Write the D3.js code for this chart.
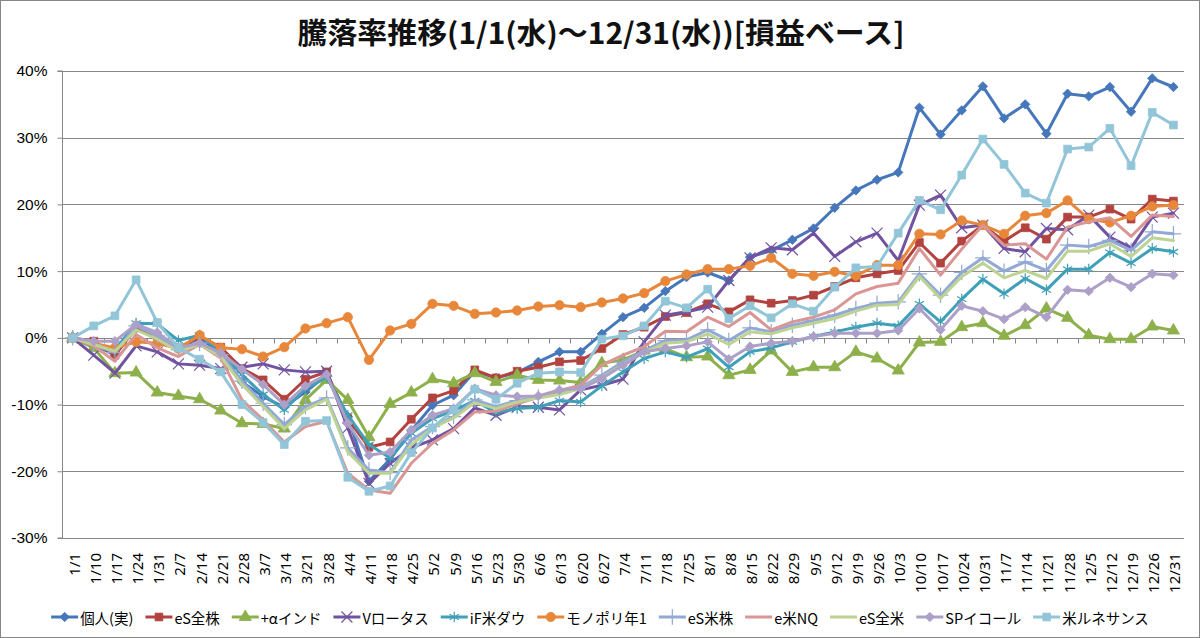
<!DOCTYPE html>
<html>
<head>
<meta charset="utf-8">
<script src="https://cdn.jsdelivr.net/npm/d3@7"></script>
<style>
  body { margin: 0; background: #fff; }
  svg { display: block; font-family: "Noto Sans", "Noto Sans CJK JP", sans-serif; }
</style>
</head>
<body>
<div id="chart"></div>
<script>
// categories (weekly dates)
const dates = ["1/1","1/10","1/17","1/24","1/31","2/7","2/14","2/21","2/28","3/7","3/14","3/21","3/28",
  "4/4","4/11","4/18","4/25","5/2","5/9","5/16","5/23","5/30","6/6","6/13","6/20","6/27","7/4","7/11",
  "7/18","7/25","8/1","8/8","8/15","8/22","8/29","9/5","9/12","9/19","9/26","10/3","10/10","10/17",
  "10/24","10/31","11/7","11/14","11/21","11/28","12/5","12/12","12/19","12/26","12/31"];

const seriesNames = ["個人(実)","eS全株","+αインド","Vロータス","iF米ダウ","モノポリ年1","eS米株","e米NQ","eS全米","SPイコール","米ルネサンス"];

const yTicks = [-30, -20, -10, 0, 10, 20, 30, 40];

// values in %
const kojin = [0,-1.0,-2.6,1.5,0.2,-1.7,0.0,-2.3,-6.6,-8.8,-10.4,-8.1,-5.6,-11.8,-21.5,-18.2,-13.9,-10.1,-8.6,-5.0,-6.0,-5.2,-3.6,-2.1,-2.1,0.6,3.1,4.5,7.0,9.1,9.8,8.6,12.1,13.1,14.7,16.4,19.5,22.1,23.7,24.8,34.5,30.5,34.1,37.7,32.9,35.0,30.6,36.6,36.2,37.6,33.9,38.9,37.6];
const esZenkabu = [0,-0.5,-2.6,1.5,0.3,-1.5,0.2,-1.4,-4.6,-6.3,-9.2,-6.2,-5.1,-12.1,-16.4,-15.6,-12.2,-9.0,-7.9,-4.8,-6.0,-5.0,-4.4,-3.6,-3.4,-1.6,0.5,1.6,3.2,3.8,5.1,3.9,5.7,5.2,5.6,6.4,7.7,9.0,9.6,10.1,14.3,11.2,14.5,16.9,14.5,16.5,14.8,18.1,18.1,19.3,17.8,20.8,20.5];
const alphaIndo = [0,-1.5,-5.3,-5.2,-8.2,-8.7,-9.2,-10.9,-12.8,-12.9,-13.6,-9.3,-6.3,-9.3,-14.9,-9.9,-8.2,-6.2,-6.8,-5.3,-6.6,-5.6,-6.3,-6.4,-6.7,-3.8,-3.3,-1.9,-1.6,-2.9,-2.8,-5.6,-4.8,-1.9,-5.1,-4.4,-4.4,-2.1,-3.1,-4.9,-0.7,-0.6,1.6,2.2,0.3,1.9,4.4,3.0,0.4,-0.2,-0.2,1.7,1.1];
const vLotus = [0,-2.6,-5.3,-1.2,-2.1,-3.9,-4.1,-4.6,-4.4,-3.9,-4.8,-5.1,-5.0,-13.5,-21.8,-18.8,-16.5,-15.3,-13.6,-10.5,-11.6,-10.4,-10.4,-10.8,-7.8,-7.1,-6.2,-0.6,3.4,3.9,4.6,8.6,12.0,13.5,13.2,15.7,12.2,14.4,15.7,11.6,19.9,21.4,16.5,16.9,13.4,12.9,16.4,16.2,18.4,15.1,13.5,18.1,18.7];
const ifDow = [0,-1.0,-1.8,2.2,2.1,-0.4,0.4,-2.1,-5.5,-8.5,-10.8,-7.6,-5.9,-11.6,-16.0,-18.0,-14.3,-12.1,-10.9,-9.4,-11.2,-10.6,-10.4,-9.4,-9.6,-7.2,-5.1,-3.1,-2.1,-2.9,-1.6,-4.4,-2.1,-1.5,-0.6,0.2,0.9,1.6,2.2,1.8,5.1,2.4,5.8,8.8,6.6,8.9,7.2,10.3,10.3,12.8,11.2,13.4,12.9];
const monopoly = [0,-0.8,-1.5,-0.6,-0.8,-1.6,0.4,-1.5,-1.7,-2.8,-1.4,1.4,2.2,3.1,-3.3,1.1,2.1,5.1,4.8,3.6,3.8,4.1,4.7,4.9,4.6,5.3,5.9,6.7,8.5,9.5,10.3,10.3,10.8,12.0,9.6,9.3,9.9,9.3,10.9,10.9,15.6,15.5,17.6,16.9,15.6,18.3,18.7,20.6,17.8,17.3,18.3,19.7,19.9];
const esBeikabu = [0,-1.0,-2.2,1.8,0.3,-1.8,-0.8,-2.5,-6.5,-9.8,-13.0,-10.3,-9.0,-16.5,-19.8,-20.2,-15.3,-13.3,-11.8,-9.3,-10.3,-9.4,-8.9,-8.2,-7.4,-5.6,-3.6,-1.9,-0.4,-0.3,1.2,-0.4,1.5,0.9,1.9,2.6,3.4,4.4,5.2,5.4,9.6,6.4,9.8,12.0,10.0,11.4,10.1,13.9,13.7,14.6,13.1,15.9,15.6];
const eBeiNQ = [0,-1.2,-3.5,0.5,-1.5,-2.8,-1.0,-3.0,-9.3,-12.3,-15.6,-13.3,-12.5,-20.3,-22.8,-23.3,-18.8,-15.8,-13.8,-11.1,-11.0,-9.9,-8.9,-7.9,-7.1,-4.1,-2.6,-1.3,1.0,0.9,3.1,1.7,3.8,1.2,2.4,3.1,4.2,6.6,7.7,8.2,13.4,9.4,13.3,16.9,13.9,14.1,11.8,16.6,17.4,18.0,15.2,18.4,18.2];
const esZenbei = [0,-1.0,-2.0,1.2,-0.2,-2.0,-1.0,-2.8,-7.0,-10.3,-13.6,-10.8,-9.2,-17.1,-20.3,-20.3,-16.0,-13.5,-12.0,-9.7,-10.6,-9.6,-9.0,-8.5,-7.6,-6.0,-4.0,-2.2,-0.8,-0.6,0.6,-1.0,0.9,0.6,1.5,2.2,2.9,4.0,4.9,5.0,9.2,5.9,9.2,11.2,9.0,10.1,8.9,13.0,13.0,14.1,12.2,15.0,14.6];
const spEqual = [0,-0.5,-0.5,2.0,0.8,-1.5,-0.8,-2.3,-4.7,-7.0,-10.0,-7.2,-5.5,-12.8,-17.6,-17.1,-13.8,-11.6,-10.6,-7.6,-8.6,-8.8,-8.7,-7.8,-7.6,-6.1,-4.1,-2.1,-1.6,-1.2,-0.6,-3.2,-1.3,-0.8,-0.5,0.2,0.7,0.7,0.7,1.1,4.4,1.2,4.8,4.0,2.8,4.6,3.1,7.2,7.0,9.0,7.6,9.6,9.4];
const beiRenaissance = [0,1.8,3.3,8.7,2.3,-1.5,-3.2,-5.1,-10.0,-12.7,-16.0,-12.5,-12.4,-20.9,-23.0,-22.2,-17.2,-13.5,-10.8,-7.7,-9.2,-6.8,-5.3,-5.1,-5.2,-0.2,0.3,1.8,5.5,4.5,7.3,2.9,4.8,3.0,5.1,4.0,7.6,10.5,10.7,15.7,20.6,19.2,24.4,29.8,26.0,21.7,20.2,28.3,28.6,31.4,25.8,33.8,31.9];

const seriesValues = [kojin, esZenkabu, alphaIndo, vLotus, ifDow, monopoly, esBeikabu, eBeiNQ, esZenbei, spEqual, beiRenaissance];

// styling
const colors = ["#4677BA","#B2433F","#8DB04B","#7153A0","#3FA0B8","#E8873A","#93A9D5","#D99694","#BCD393","#ADA0C8","#92C5D8"];
const markerTypes = ["diamond","square","triangle","x","asterisk","circle","plus",null,null,"diamond","square"];

const width = 1200, height = 638;
const plot = { left: 62, right: 1184, top: 71, bottom: 538 };
const gridColor = "#868686";

const svg = d3.select("#chart").append("svg")
  .attr("width", width).attr("height", height)
  .attr("viewBox", [0, 0, width, height]);

svg.append("rect")
  .attr("x", 0.5).attr("y", 0.5)
  .attr("width", width - 1).attr("height", height - 1)
  .attr("fill", "#fff").attr("stroke", gridColor);

// title
svg.append("text")
  .attr("x", 601).attr("y", 44)
  .attr("text-anchor", "middle")
  .style("font-family", "'Noto Sans CJK JP', sans-serif")
  .style("font-size", "29px")
  .style("font-weight", "bold")
  .attr("fill", "#111")
  .attr("textLength", 607)
  .attr("lengthAdjust", "spacingAndGlyphs")
  .text("騰落率推移(1/1(水)～12/31(水))[損益ベース]");

// scales
const x = d3.scaleBand().domain(dates).range([plot.left, plot.right]);
const cx = d => x(d) + x.bandwidth() / 2;
const y = d3.scaleLinear().domain([-30, 40]).range([plot.bottom, plot.top]);

// grid
svg.append("g").selectAll("line")
  .data(yTicks)
  .join("line")
  .attr("x1", plot.left).attr("x2", plot.right)
  .attr("y1", d => Math.round(y(d)) + 0.5).attr("y2", d => Math.round(y(d)) + 0.5)
  .attr("stroke", gridColor).attr("stroke-width", 1);

// y axis
const yAxis = svg.append("g")
  .attr("transform", `translate(${plot.left + 0.5},0)`)
  .call(d3.axisLeft(y).tickValues(yTicks).tickSize(5).tickPadding(10).tickFormat(d => d + "%"));
yAxis.selectAll("path, line").attr("stroke", gridColor);
yAxis.selectAll("text").style("font-size", "15.5px").attr("fill", "#000");
yAxis.select(".domain").attr("d", `M-5,${plot.top}H0V${plot.bottom}H-5`);

// x axis on 0% line, ticks between categories
const y0 = Math.round(y(0)) + 0.5;
const xAxis = svg.append("g");
xAxis.append("line")
  .attr("x1", plot.left).attr("x2", plot.right)
  .attr("y1", y0).attr("y2", y0)
  .attr("stroke", gridColor);
xAxis.selectAll("line.tick")
  .data(d3.range(dates.length + 1))
  .join("line")
  .attr("class", "tick")
  .attr("x1", i => Math.round(plot.left + i * x.step()) + 0.5)
  .attr("x2", i => Math.round(plot.left + i * x.step()) + 0.5)
  .attr("y1", y0).attr("y2", y0 + 5)
  .attr("stroke", gridColor);

// x labels at the bottom, rotated
svg.append("g").selectAll("text")
  .data(dates)
  .join("text")
  .attr("transform", d => `translate(${cx(d) + 1},553) rotate(-90)`)
  .attr("text-anchor", "end")
  .attr("dominant-baseline", "central")
  .style("font-size", "15px")
  .attr("fill", "#000")
  .text(d => d);

// markers
function drawMarker(sel, type, color) {
  if (!type) return;
  let sym, size, filled = true, rot = 0;
  if (type === "diamond") { sym = d3.symbolSquare; size = 44; rot = 45; }
  else if (type === "square") { sym = d3.symbolSquare; size = 60; }
  else if (type === "triangle") { sym = d3.symbolTriangle; size = 64; }
  else if (type === "circle") { sym = d3.symbolCircle; size = 68; }
  else if (type === "x") { sym = d3.symbolTimes || d3.symbolX; size = 80; filled = false; }
  else if (type === "asterisk") { sym = d3.symbolAsterisk; size = 80; filled = false; }
  else if (type === "plus") { sym = d3.symbolPlus; size = 80; filled = false; }
  sel.append("path")
    .attr("transform", d => `translate(${d[0]},${d[1]}) rotate(${rot})`)
    .attr("d", d3.symbol().type(sym).size(size)())
    .attr("fill", filled ? color : "none")
    .attr("stroke", color)
    .attr("stroke-width", filled ? 0.8 : 1.2);
}

const line = d3.line().x(d => d[0]).y(d => d[1]);

seriesValues.forEach((vals, si) => {
  const pts = vals.map((v, i) => [cx(dates[i]), y(v)]);
  const g = svg.append("g").attr("class", "series");
  g.append("path")
    .attr("d", line(pts))
    .attr("fill", "none")
    .attr("stroke", colors[si])
    .attr("stroke-width", 3)
    .attr("stroke-linejoin", "round")
    .attr("stroke-linecap", "round");
  const m = g.selectAll("g.m").data(pts).join("g").attr("class", "m");
  drawMarker(m, markerTypes[si], colors[si]);
});

// legend
const legend = svg.append("g").attr("transform", "translate(0,617)");
const items = legend.selectAll("g").data(seriesNames).join("g");
items.append("text")
  .attr("x", 29)
  .attr("dominant-baseline", "central")
  .style("font-family", "'Noto Sans CJK JP', sans-serif")
  .style("font-size", "14.5px")
  .attr("fill", "#000")
  .text(d => d);
let widths = [];
items.each(function () {
  widths.push(29 + this.querySelector("text").getComputedTextLength());
});
const gap = 12;
const total = d3.sum(widths) + gap * (widths.length - 1);
let pos = 600 - total / 2;
items.each(function (d, i) {
  const it = d3.select(this).attr("transform", `translate(${pos},0)`);
  it.insert("line", "text")
    .attr("x1", 0).attr("x2", 27).attr("y1", 0).attr("y2", 0)
    .attr("stroke", colors[i]).attr("stroke-width", 3);
  const mk = it.append("g").datum([13.5, 0]);
  drawMarker(mk, markerTypes[i], colors[i]);
  pos += widths[i] + gap;
});
</script>
</body>
</html>
